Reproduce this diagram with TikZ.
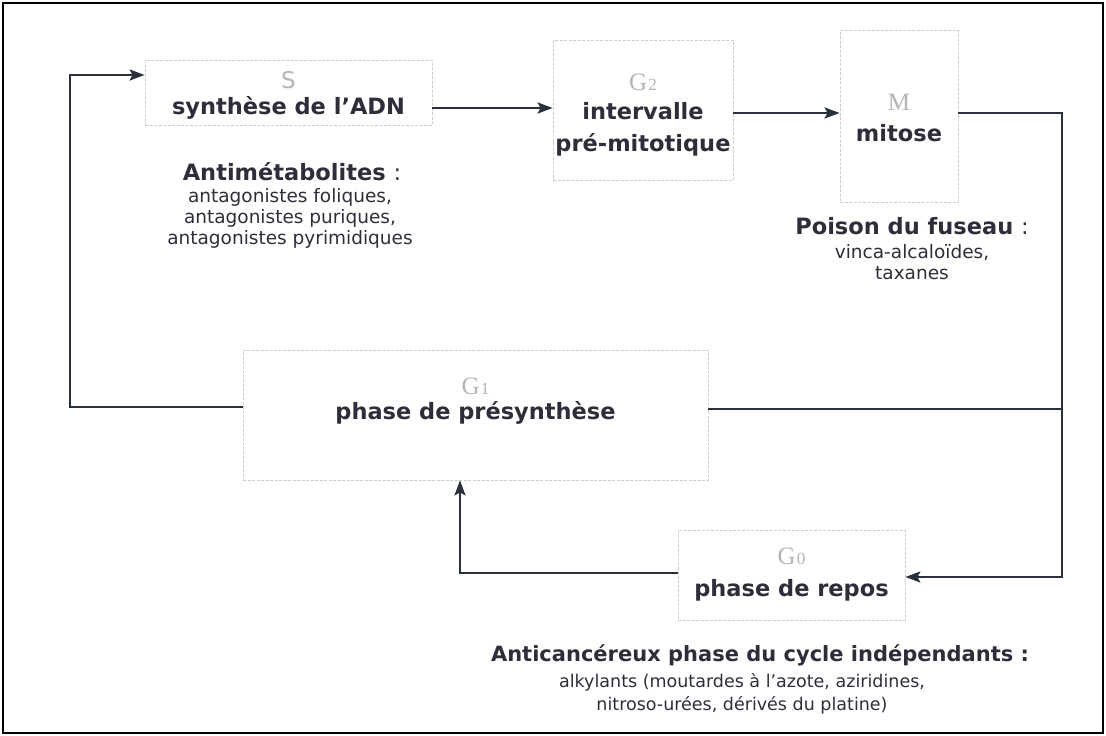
\documentclass[tikz,border=0pt]{standalone}
\usepackage{fontspec}
\setmainfont{DejaVu Sans}
\newfontfamily\serifg{Liberation Serif}
\usetikzlibrary{arrows.meta,calc}
\definecolor{ink}{HTML}{2A2F3C}
\definecolor{txt}{HTML}{2E2E3A}
\definecolor{lab}{HTML}{B4B4B8}
\definecolor{edge}{HTML}{CFCFD2}
\tikzset{
  phasebox/.style={draw=edge, line width=0.8pt, dash pattern=on 3pt off 1.5pt, fill=white, inner sep=0pt},
  conn/.style={draw=ink, line width=2.4pt},
  arr/.style={conn, -{Stealth[length=15pt,width=11pt,inset=3pt]}},
  boldt/.style={text=txt, font=\bfseries\fontsize{22.5}{32}\selectfont, inner sep=0pt, align=center},
  normt/.style={text=txt, font=\fontsize{18.5}{21}\selectfont, inner sep=0pt, align=center},
  glab/.style={text=lab, font=\serifg\fontsize{25}{26}\selectfont, inner sep=0pt},
  slab/.style={text=lab, font=\fontsize{23}{26}\selectfont, inner sep=0pt}
}
\begin{document}
\begin{tikzpicture}[x=1pt,y=-1pt]
\useasboundingbox (0,0) rectangle (1106,736);
\draw[black, line width=1.2pt] (3,3) rectangle (1103,733);
% boxes
\node[phasebox, minimum width=287pt, minimum height=65pt] (S) at (288.5,92.5) {};
\node[phasebox, minimum width=180pt, minimum height=140pt] (G2) at (643,110) {};
\node[phasebox, minimum width=118pt, minimum height=172pt] (M) at (899,116) {};
\node[phasebox, minimum width=465pt, minimum height=130pt] (G1) at (475.5,415) {};
\node[phasebox, minimum width=227pt, minimum height=90pt] (G0) at (791.5,575) {};
% box labels
\node[slab] (Sl) at (288.5,80) {S};
\node[boldt] (St) at (288.5,108) {synthèse de l’ADN};
\node[glab] (G2l) at (643,82) {G\kern1pt{\fontsize{17}{18}\selectfont 2}};
\node[boldt] (G2t) at (643,129) {intervalle\\pré-mitotique};
\node[glab] (Ml) at (899,102) {M};
\node[boldt] (Mt) at (899,133) {mitose};
\node[glab] (G1l) at (475.5,386) {G\kern1pt{\fontsize{17}{18}\selectfont 1}};
\node[boldt] (G1t) at (475.5,413) {phase de présynthèse};
\node[glab] (G0l) at (791.5,556) {G\kern1pt{\fontsize{17}{18}\selectfont 0}};
\node[boldt] (G0t) at (791.5,590) {phase de repos};
% drug texts
\node[boldt] (Ah) at (292,172) {Antimétabolites {\mdseries :}};
\node[normt] (At) at (290,218) {antagonistes foliques,\\antagonistes puriques,\\antagonistes pyrimidiques};
\node[boldt] (Ph) at (912,226) {Poison du fuseau {\mdseries :}};
\node[normt] (Pt) at (912,262) {vinca-alcaloïdes,\\taxanes};
\node[boldt, font=\bfseries\fontsize{21}{24}\selectfont] (Bh) at (760,655) {Anticancéreux phase du cycle indépendants :};
\node[normt, font=\fontsize{17.5}{23}\selectfont] (Bt) at (742,694) {alkylants (moutardes à l’azote, aziridines,\\nitroso-urées, dérivés du platine)};
% connectors
\path ([yshift=-15.5pt]S.east) coordinate (a1);
\draw[arr] (a1) -- (a1 -| G2.west);
\path ([yshift=-3pt]G2.east) coordinate (a2);
\draw[arr] (a2) -- (a2 -| M.west);
\coordinate (R) at (1062,113);
\path ([yshift=3pt]M.east) coordinate (a3);
\path ([yshift=-2pt]G0.east) coordinate (a4);
\draw[arr] (a3) -- (a3 -| R) -- (R |- a4) -- (a4);
\path ([yshift=6pt]G1.east) coordinate (a5);
\draw[conn] (a5) -- (a5 -| R);
\path ([yshift=2pt]G0.west) coordinate (a6);
\coordinate (Lb) at (460,480);
\draw[arr] (a6) -- (a6 -| Lb) -- (Lb |- G1.south);
\path ([yshift=8pt]G1.west) coordinate (a7);
\path ([yshift=17.5pt]S.west) coordinate (a8);
\coordinate (L) at (70,75);
\draw[arr] (a7) -- (a7 -| L) -- (L |- a8) -- (a8);
\end{tikzpicture}
\end{document}
